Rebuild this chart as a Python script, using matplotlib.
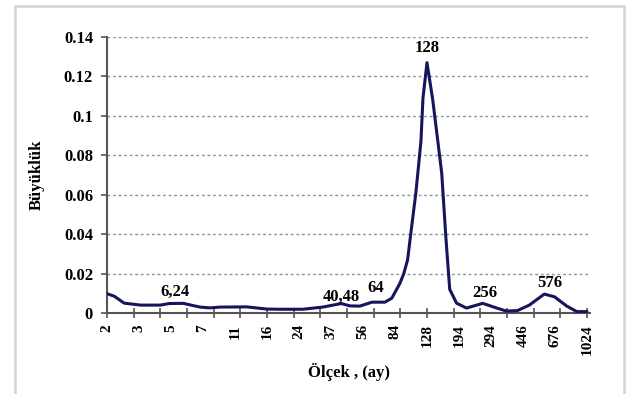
import numpy as np
import matplotlib
matplotlib.use("Agg")
import matplotlib.pyplot as plt
from matplotlib.patches import Rectangle

# wavelet scale (months) and magnitude
scale = [2.0, 2.2, 2.5, 3.1, 4.0, 4.5, 5.4, 6.1, 6.7, 7.6, 8.7, 12.3, 16, 19,
         25.5, 33, 42, 47, 53.5, 62.7, 74, 81, 90, 94.7, 99.5, 103.6, 110.8,
         118.3, 121.5, 128, 138, 155, 164, 172, 188, 214, 244, 264, 320, 358,
         414, 484, 588, 672, 787, 898, 1024]
magnitude = [0.0098, 0.0085, 0.0050, 0.0040, 0.0040, 0.0048, 0.0049, 0.0038,
             0.0030, 0.0026, 0.0030, 0.0031, 0.0020, 0.0019, 0.0019, 0.0030,
             0.0048, 0.0036, 0.0035, 0.0055, 0.0055, 0.0075, 0.0150, 0.0200,
             0.0270, 0.0400, 0.0610, 0.0870, 0.1090, 0.1270, 0.1080, 0.0710,
             0.0370, 0.0120, 0.0050, 0.0025, 0.0040, 0.0049, 0.0024, 0.0010,
             0.0012, 0.0040, 0.0096, 0.0082, 0.0035, 0.0007, 0.0007]

tick_labels = ["2", "3", "5", "7", "11", "16", "24", "37", "56", "84", "128",
               "194", "294", "446", "676", "1024"]
y_ticks = [0, 0.02, 0.04, 0.06, 0.08, 0.1, 0.12, 0.14]
y_ticklabels = ["0", "0.02", "0.04", "0.06", "0.08", "0.1", "0.12", "0.14"]

# peak annotations: text, scale, height
peak_text = ["6,24", "40,48", "64", "128", "256", "576"]
peak_x = [4.84, 42.3, 66, 128, 272, 631]
peak_y = [0.0106, 0.0081, 0.0127, 0.1346, 0.0101, 0.0152]

plt.rcParams["font.family"] = ["Liberation Serif", "DejaVu Serif"]
plt.rcParams["font.weight"] = "bold"

fig = plt.figure(figsize=(6.27, 3.94), dpi=100)
fig.patches.append(Rectangle((15 / 627, -0.05), 609 / 627, 1 - 6 / 394 + 0.05,
                             transform=fig.transFigure, fill=False,
                             edgecolor="#d4d4d4", linewidth=1.8))

ax = fig.add_axes([107 / 627, 1 - 313 / 394, 483 / 627, 276 / 394])
ax.set_xscale("log", base=2)
ax.set_xlim(2, 1065)
ax.set_ylim(0, 0.14)

for yv in y_ticks[1:]:
    ax.axhline(yv, color="#7a9e96", linestyle=(0, (2, 2)), linewidth=1.0, zorder=1)

ax.plot(scale, magnitude, color="#15155c", linewidth=2.2, zorder=3,
        solid_joinstyle="round", solid_capstyle="round")

# tick marks every half octave; the scale labels are spread evenly
# (geometrically) between 2 and 1024 and show the rounded scale
ax.xaxis.remove_overlapping_locs = False
ax.set_xticks([2 ** (1 + 0.5 * k) for k in range(19)])
ax.set_xticklabels([])
ax.set_xticks(np.geomspace(2, 1024, len(tick_labels)), minor=True)
ax.set_xticklabels(tick_labels, minor=True, rotation=90,
                   fontsize=11, fontweight="bold")
ax.tick_params(axis="x", which="major", direction="inout", length=7,
               width=1.2, color="#555555")
ax.tick_params(axis="x", which="minor", length=0, pad=8)

ax.set_yticks(y_ticks)
ax.set_yticklabels(y_ticklabels, fontsize=12, fontweight="bold")
ax.tick_params(axis="y", direction="out", length=4, width=1.2,
               color="#555555", pad=6)

for side in ["top", "right"]:
    ax.spines[side].set_visible(False)
for side in ["left", "bottom"]:
    ax.spines[side].set_color("#555555")
    ax.spines[side].set_linewidth(1.5)

for txt, xv, yv in zip(peak_text, peak_x, peak_y):
    ax.text(xv, yv, txt, ha="center", va="center", fontsize=12,
            fontweight="bold", zorder=4)

ax.set_ylabel("Büyüklük", fontsize=12, fontweight="bold", labelpad=14)
ax.set_xlabel("Ölçek , (ay)", fontsize=12, fontweight="bold", labelpad=6)

fig.savefig("out.png", dpi=100)
